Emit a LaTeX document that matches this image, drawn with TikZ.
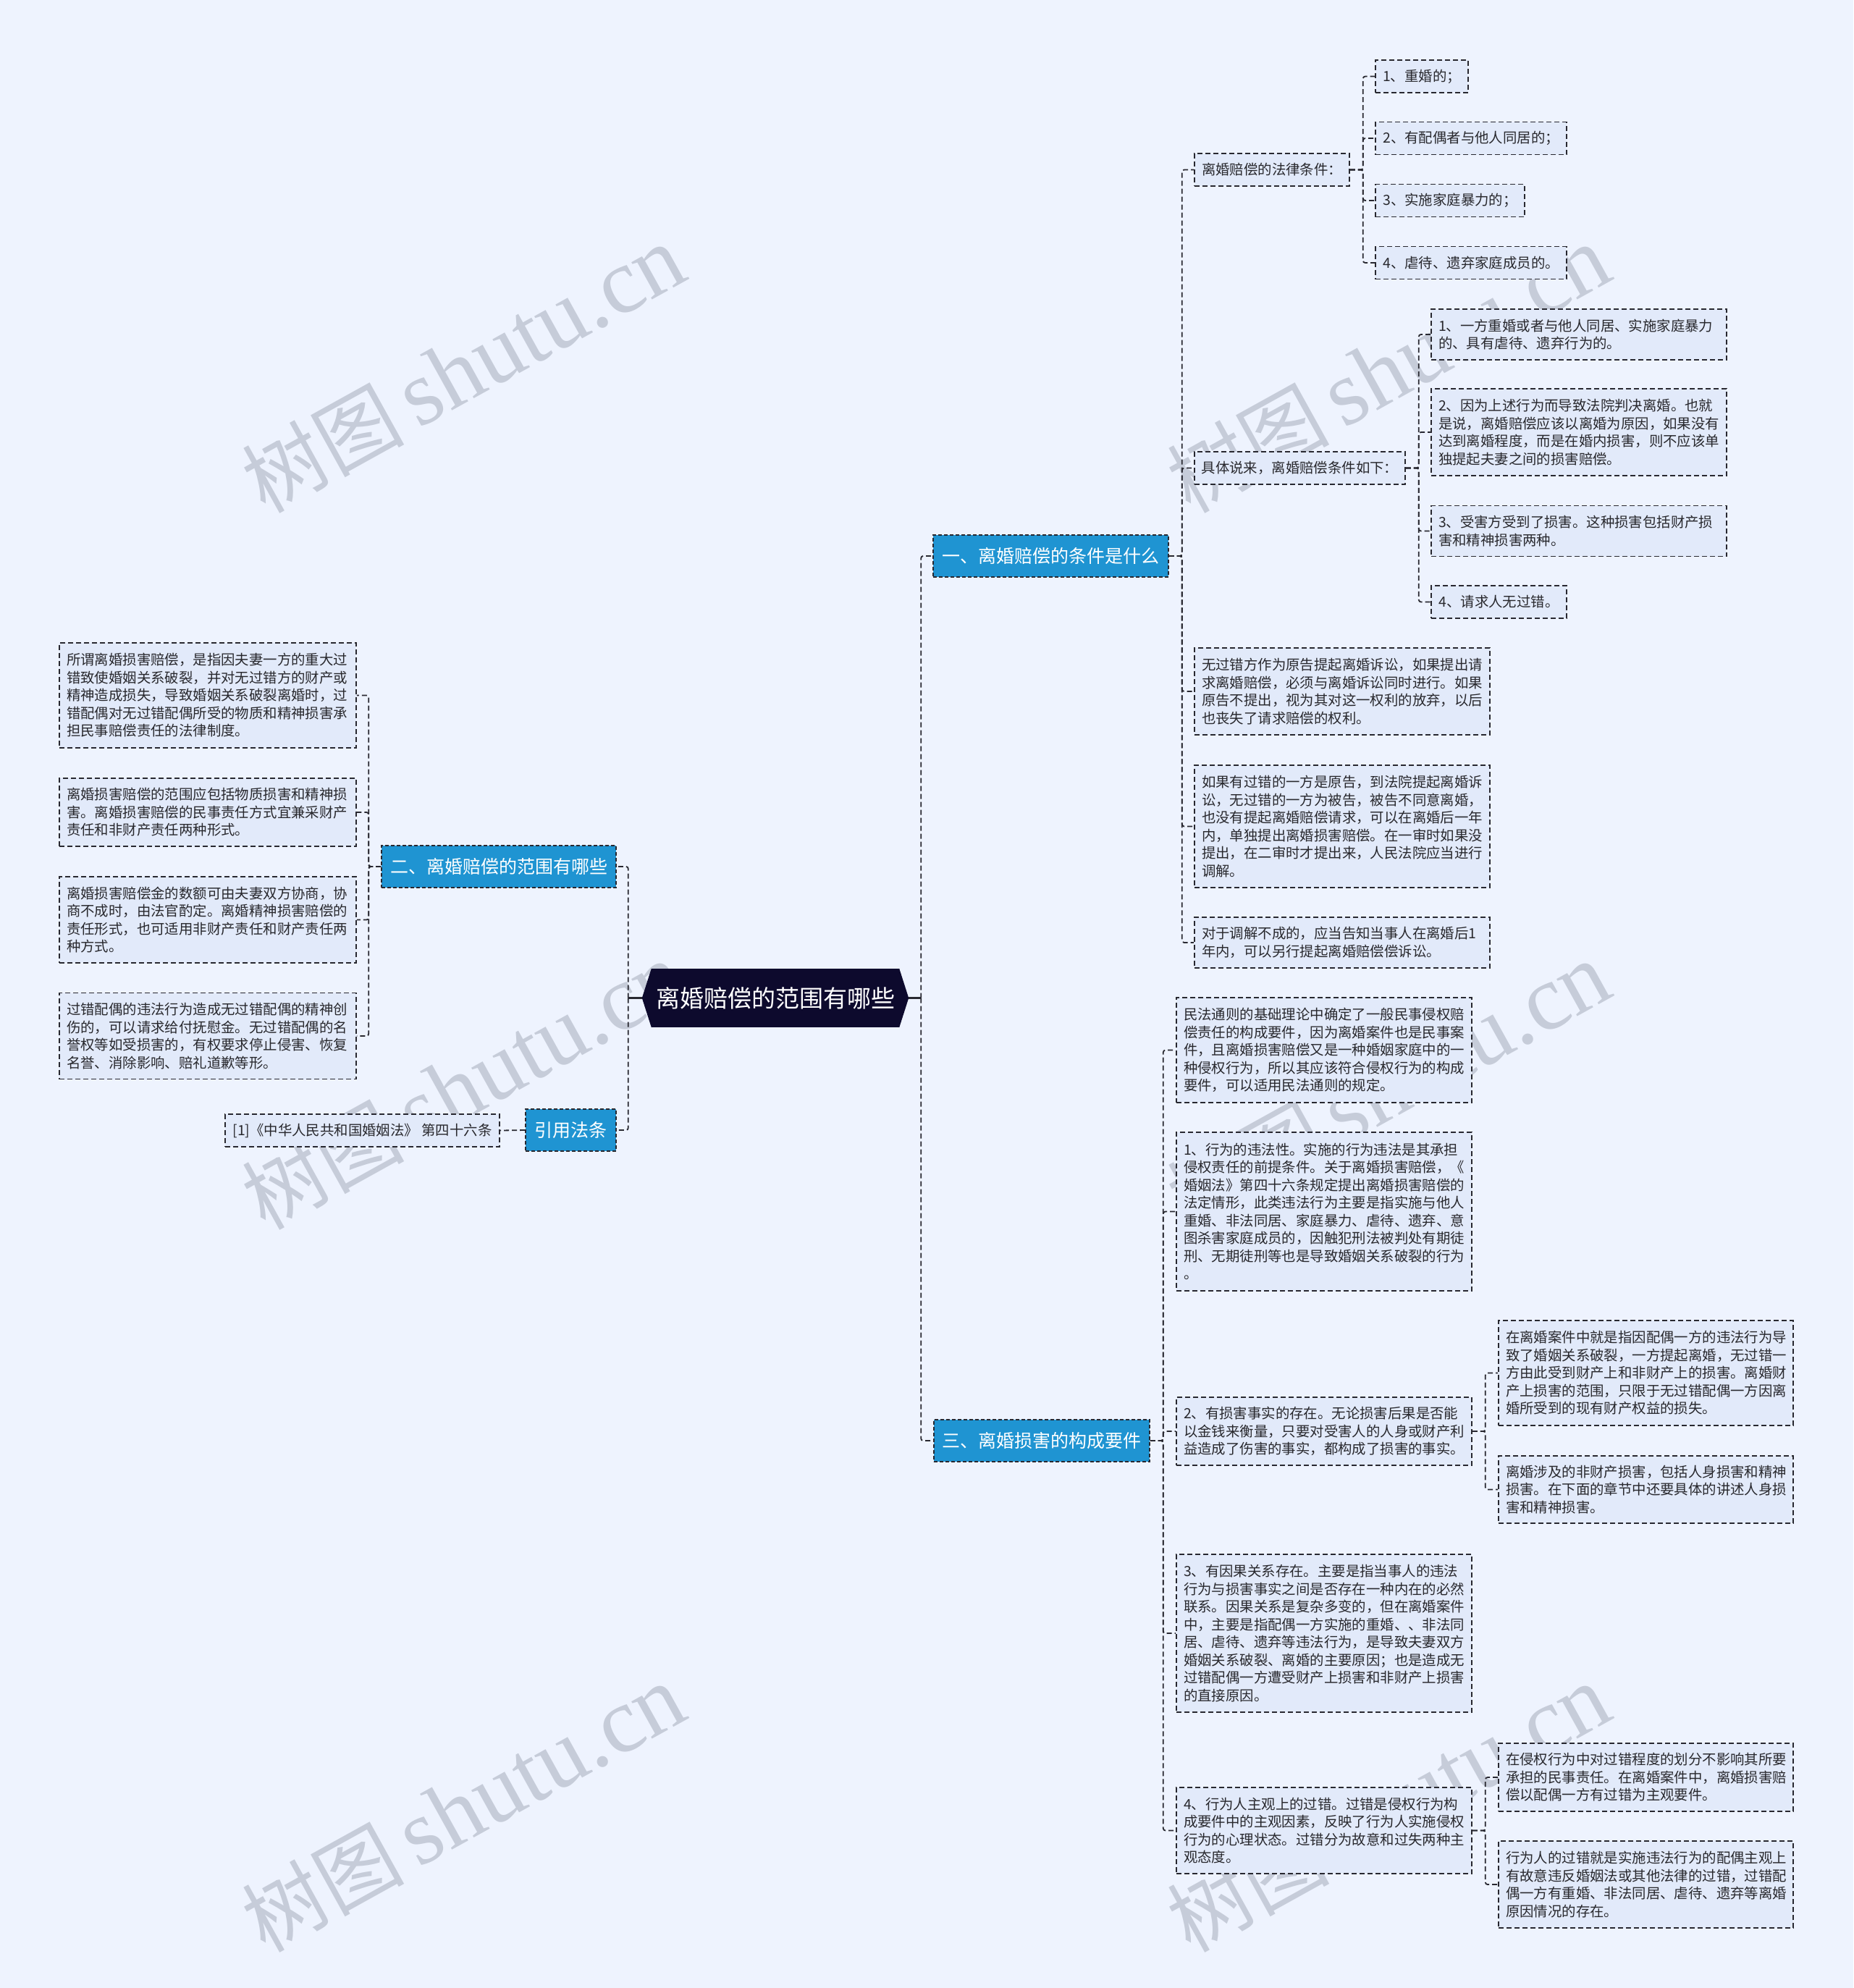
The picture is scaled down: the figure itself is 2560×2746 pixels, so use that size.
\documentclass[tikz,border=0pt]{standalone}
\usepackage{fontspec}
\setmainfont{Noto Sans CJK SC}
\newfontfamily\wmlatin{Liberation Serif}
\usetikzlibrary{calc}
\definecolor{bgc}{RGB}{238,243,254}
\definecolor{leafc}{RGB}{226,234,250}
\definecolor{bluec}{RGB}{31,148,210}
\definecolor{rootc}{RGB}{13,10,45}
\definecolor{linec}{RGB}{40,40,48}
\definecolor{txtc}{RGB}{40,40,45}
\definecolor{wmc}{RGB}{198,204,217}
\begin{document}
\begin{tikzpicture}[x=1pt,y=-1pt,
  box/.style={draw=linec, line width=1.6pt, dash pattern=on 7pt off 4pt, fill=leafc, inner sep=0pt, align=left, text=txtc},
  leafR/.style={box, font=\fontsize{19.4}{24.5}\selectfont},
  topic/.style={draw=linec, line width=1.6pt, dash pattern=on 5pt off 3pt, fill=bluec, text=white, font=\fontsize{25}{30}\selectfont, inner sep=0pt, minimum height=58pt},
  conn/.style={draw=linec, line width=1.8pt, dash pattern=on 7pt off 4pt, rounded corners=3pt},
  wm/.style={text=wmc, rotate=29, inner sep=0pt}
]
\fill[bgc] (0,0) rectangle (2560,2746);
\useasboundingbox (0,0) rectangle (2560,2746);

% watermarks
\foreach \wx/\wy [count=\i] in {640/510, 1918/510, 640/1500, 1918/1500, 640/2498, 1918/2498}{
  \node[wm] (wm\i) at (\wx,\wy) {\fontsize{112}{120}\selectfont 树图\,{\wmlatin\fontsize{128}{130}\selectfont shutu.cn}};
}

% root
\node[fill=rootc, text=white, font=\fontsize{33}{38}\selectfont, minimum width=342pt, minimum height=81pt, inner sep=0pt] (root) at (1071,1378.5) {离婚赔偿的范围有哪些};
\fill[rootc] (root.north east) -- ($(root.east)+(13,0)$) -- (root.south east) -- cycle;
\fill[rootc] (root.north west) -- ($(root.west)+(-13,0)$) -- (root.south west) -- cycle;
\coordinate (rootR) at ($(root.east)+(13,0)$);
\coordinate (rootL) at ($(root.west)+(-13,0)$);

% topics
\node[topic, minimum width=325pt] (n1) at (1451.5,768) {一、离婚赔偿的条件是什么};
\node[topic, minimum width=324pt] (n2) at (689,1197) {二、离婚赔偿的范围有哪些};
\node[topic, minimum width=125pt] (n4) at (788.5,1561) {引用法条};
\node[topic, minimum width=298pt] (n3) at (1439,1990) {三、离婚损害的构成要件};

% branch one
\node[leafR, minimum width=214pt, minimum height=45pt] (a1) at (1757,234.5) {离婚赔偿的法律条件：};
\node[leafR, minimum width=291pt, minimum height=45pt] (a2) at (1795.5,646.5) {具体说来，离婚赔偿条件如下：};
\node[leafR, minimum width=408pt, minimum height=120pt, text width=388pt] (a3) at (1854,955) {无过错方作为原告提起离婚诉讼，如果提出请\\求离婚赔偿，必须与离婚诉讼同时进行。如果\\原告不提出，视为其对这一权利的放弃，以后\\也丧失了请求赔偿的权利。};
\node[leafR, minimum width=408pt, minimum height=169pt, text width=388pt] (a4) at (1854,1141.5) {如果有过错的一方是原告，到法院提起离婚诉\\讼，无过错的一方为被告，被告不同意离婚，\\也没有提起离婚赔偿请求，可以在离婚后一年\\内，单独提出离婚损害赔偿。在一审时如果没\\提出，在二审时才提出来，人民法院应当进行\\调解。};
\node[leafR, minimum width=408pt, minimum height=70pt, text width=388pt] (a5) at (1854,1302) {对于调解不成的，应当告知当事人在离婚后1\\年内，可以另行提起离婚赔偿偿诉讼。};

\node[leafR, minimum width=128pt, minimum height=45pt] (b1) at (1964,105.5) {1、重婚的；};
\node[leafR, minimum width=264pt, minimum height=45pt] (b2) at (2032,191) {2、有配偶者与他人同居的；};
\node[leafR, minimum width=206pt, minimum height=45pt] (b3) at (2003,277) {3、实施家庭暴力的；};
\node[leafR, minimum width=264pt, minimum height=45pt] (b4) at (2032,363) {4、虐待、遗弃家庭成员的。};

\node[leafR, minimum width=408pt, minimum height=70pt, text width=388pt] (c1) at (2181,462) {1、一方重婚或者与他人同居、实施家庭暴力\\的、具有虐待、遗弃行为的。};
\node[leafR, minimum width=408pt, minimum height=120pt, text width=388pt] (c2) at (2181,597) {2、因为上述行为而导致法院判决离婚。也就\\是说，离婚赔偿应该以离婚为原因，如果没有\\达到离婚程度，而是在婚内损害，则不应该单\\独提起夫妻之间的损害赔偿。};
\node[leafR, minimum width=408pt, minimum height=70pt, text width=388pt] (c3) at (2181,733.5) {3、受害方受到了损害。这种损害包括财产损\\害和精神损害两种。};
\node[leafR, minimum width=187pt, minimum height=45pt] (c4) at (2070.5,831.5) {4、请求人无过错。};

% branch two
\node[leafR, minimum width=410pt, minimum height=145pt, text width=390pt] (d1) at (287,960.5) {所谓离婚损害赔偿，是指因夫妻一方的重大过\\错致使婚姻关系破裂，并对无过错方的财产或\\精神造成损失，导致婚姻关系破裂离婚时，过\\错配偶对无过错配偶所受的物质和精神损害承\\担民事赔偿责任的法律制度。};
\node[leafR, minimum width=410pt, minimum height=94pt, text width=390pt] (d2) at (287,1122) {离婚损害赔偿的范围应包括物质损害和精神损\\害。离婚损害赔偿的民事责任方式宜兼采财产\\责任和非财产责任两种形式。};
\node[leafR, minimum width=410pt, minimum height=119pt, text width=390pt] (d3) at (287,1270.5) {离婚损害赔偿金的数额可由夫妻双方协商，协\\商不成时，由法官酌定。离婚精神损害赔偿的\\责任形式，也可适用非财产责任和财产责任两\\种方式。};
\node[leafR, minimum width=410pt, minimum height=119pt, text width=390pt] (d4) at (287,1431) {过错配偶的违法行为造成无过错配偶的精神创\\伤的，可以请求给付抚慰金。无过错配偶的名\\誉权等如受损害的，有权要求停止侵害、恢复\\名誉、消除影响、赔礼道歉等形。};

\node[leafR, minimum width=379pt, minimum height=45pt] (e1) at (500.5,1561.5) {[1]《中华人民共和国婚姻法》 第四十六条};

% branch three
\node[leafR, minimum width=408pt, minimum height=145pt, text width=388pt] (f1) at (1829,1450.5) {民法通则的基础理论中确定了一般民事侵权赔\\偿责任的构成要件，因为离婚案件也是民事案\\件，且离婚损害赔偿又是一种婚姻家庭中的一\\种侵权行为，所以其应该符合侵权行为的构成\\要件，可以适用民法通则的规定。};
\node[leafR, minimum width=408pt, minimum height=219pt, text width=388pt] (f2) at (1829,1673.5) {1、行为的违法性。实施的行为违法是其承担\\侵权责任的前提条件。关于离婚损害赔偿，《\\婚姻法》第四十六条规定提出离婚损害赔偿的\\法定情形，此类违法行为主要是指实施与他人\\重婚、非法同居、家庭暴力、虐待、遗弃、意\\图杀害家庭成员的，因触犯刑法被判处有期徒\\刑、无期徒刑等也是导致婚姻关系破裂的行为\\。};
\node[leafR, minimum width=408pt, minimum height=94pt, text width=388pt] (f3) at (1829,1977) {2、有损害事实的存在。无论损害后果是否能\\以金钱来衡量，只要对受害人的人身或财产利\\益造成了伤害的事实，都构成了损害的事实。};
\node[leafR, minimum width=408pt, minimum height=218pt, text width=388pt] (f4) at (1829,2256) {3、有因果关系存在。主要是指当事人的违法\\行为与损害事实之间是否存在一种内在的必然\\联系。因果关系是复杂多变的，但在离婚案件\\中，主要是指配偶一方实施的重婚、、非法同\\居、虐待、遗弃等违法行为，是导致夫妻双方\\婚姻关系破裂、离婚的主要原因；也是造成无\\过错配偶一方遭受财产上损害和非财产上损害\\的直接原因。};
\node[leafR, minimum width=408pt, minimum height=119pt, text width=388pt] (f5) at (1829,2528.5) {4、行为人主观上的过错。过错是侵权行为构\\成要件中的主观因素，反映了行为人实施侵权\\行为的心理状态。过错分为故意和过失两种主\\观态度。};

\node[leafR, minimum width=407pt, minimum height=145pt, text width=387pt] (g1) at (2273.5,1896.5) {在离婚案件中就是指因配偶一方的违法行为导\\致了婚姻关系破裂，一方提起离婚，无过错一\\方由此受到财产上和非财产上的损害。离婚财\\产上损害的范围，只限于无过错配偶一方因离\\婚所受到的现有财产权益的损失。};
\node[leafR, minimum width=407pt, minimum height=93pt, text width=387pt] (g2) at (2273.5,2057.5) {离婚涉及的非财产损害，包括人身损害和精神\\损害。在下面的章节中还要具体的讲述人身损\\害和精神损害。};
\node[leafR, minimum width=407pt, minimum height=94pt, text width=387pt] (h1) at (2273.5,2455) {在侵权行为中对过错程度的划分不影响其所要\\承担的民事责任。在离婚案件中，离婚损害赔\\偿以配偶一方有过错为主观要件。};
\node[leafR, minimum width=407pt, minimum height=120pt, text width=387pt] (h2) at (2273.5,2603) {行为人的过错就是实施违法行为的配偶主观上\\有故意违反婚姻法或其他法律的过错，过错配\\偶一方有重婚、非法同居、虐待、遗弃等离婚\\原因情况的存在。};

% root connectors
\draw[linec, line width=3pt] (rootR) -- ++(17,0) coordinate (jR);
\draw[linec, line width=3pt] (rootL) -- ++(-19,0) coordinate (jL);
\foreach \c in {n1,n3}{\draw[conn] (jR) |- (\c.west);}
\foreach \c in {n2,n4}{\draw[conn] (jL) |- (\c.east);}

% level connectors
\foreach \c in {a1,a2,a3,a4,a5}{\draw[conn] (n1.east) -- ++(18,0) |- (\c.west);}
\foreach \c in {b1,b2,b3,b4}{\draw[conn] (a1.east) -- ++(18,0) |- (\c.west);}
\foreach \c in {c1,c2,c3,c4}{\draw[conn] (a2.east) -- ++(18,0) |- (\c.west);}
\foreach \c in {d1,d2,d3,d4}{\draw[conn] (n2.west) -- ++(-17,0) |- (\c.east);}
\draw[conn] (n4.west) -- (e1.east);
\foreach \c in {f1,f2,f3,f4,f5}{\draw[conn] (n3.east) -- ++(18,0) |- (\c.west);}
\foreach \c in {g1,g2}{\draw[conn] (f3.east) -- ++(18,0) |- (\c.west);}
\foreach \c in {h1,h2}{\draw[conn] (f5.east) -- ++(18,0) |- (\c.west);}
\end{tikzpicture}
\end{document}
